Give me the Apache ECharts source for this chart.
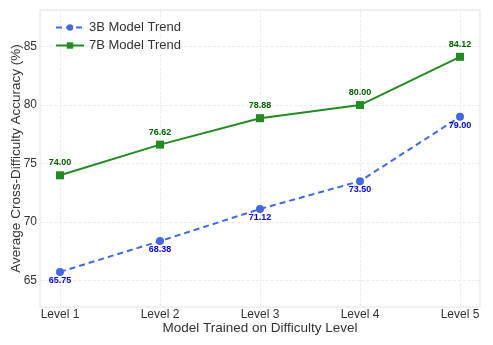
<!DOCTYPE html>
<html><head><meta charset="utf-8">
<script src="https://cdn.jsdelivr.net/npm/echarts@6/dist/echarts.min.js"></script>
<style>html,body{margin:0;padding:0;background:#fff}#c{width:493px;height:345px}</style>
</head><body><div id="c"></div>
<script>
const levels = [1, 2, 3, 4, 5];
const levelLabels = ['Level 1', 'Level 2', 'Level 3', 'Level 4', 'Level 5'];
const model3B = [65.75, 68.38, 71.12, 73.50, 79.00];
const model7B = [74.00, 76.62, 78.88, 80.00, 84.12];
const yTicks = [65, 70, 75, 80, 85];

const FONT = 'Liberation Sans, Arial, sans-serif';
const chart = echarts.init(document.getElementById('c'), null, {renderer: 'canvas'});
const fmt = v => v.value[1].toFixed(2);
chart.setOption({
  animation: false,
  textStyle: {fontFamily: FONT},
  grid: {left: 40, right: 13, top: 10, bottom: 38, show: true, borderColor: '#e2e2e2', borderWidth: 1,
         outerBoundsMode: 'none', containLabel: false},
  legend: {
    left: 50, top: 16, orient: 'vertical', itemGap: 5, itemWidth: 28, itemHeight: 8,
    textStyle: {fontSize: 13, color: '#333', fontFamily: FONT},
    data: ['3B Model Trend', '7B Model Trend']
  },
  xAxis: {
    type: 'value', min: 0.8, max: 5.2,
    name: 'Model Trained on Difficulty Level', nameLocation: 'middle', nameGap: 14, nameMoveOverlap: false,
    nameTextStyle: {fontSize: 13.5, color: '#333', fontFamily: FONT},
    axisLine: {show: false}, axisTick: {show: false, customValues: levels},
    axisLabel: {customValues: levels, formatter: v => levelLabels[levels.indexOf(v)] || '', fontSize: 12, color: '#333', margin: 2, fontFamily: FONT},
    splitLine: {show: true, customValues: levels, lineStyle: {color: '#e8e8e8', type: 'dashed', width: 0.8}}
  },
  yAxis: {
    type: 'value', min: 62.75, max: 88.12,
    name: 'Average Cross-Difficulty Accuracy (%)', nameLocation: 'middle', nameGap: 17, nameMoveOverlap: false,
    nameTextStyle: {fontSize: 13.5, color: '#333', fontFamily: FONT},
    axisLine: {show: false}, axisTick: {show: false, customValues: yTicks},
    axisLabel: {customValues: yTicks, fontSize: 12, color: '#333', margin: 3, fontFamily: FONT},
    splitLine: {show: true, customValues: yTicks, lineStyle: {color: '#e8e8e8', type: 'dashed', width: 0.8}}
  },
  series: [
    {
      name: '3B Model Trend', type: 'line',
      data: levels.map((l, i) => [l, model3B[i]]),
      symbol: 'circle', symbolSize: 8,
      itemStyle: {color: '#4169E1'},
      lineStyle: {color: '#4169E1', width: 2, type: [6, 4]},
      label: {show: true, position: 'bottom', distance: 0, formatter: fmt, color: '#0000FF', fontSize: 9, fontWeight: 'bold', fontFamily: FONT}
    },
    {
      name: '7B Model Trend', type: 'line',
      data: levels.map((l, i) => [l, model7B[i]]),
      symbol: 'rect', symbolSize: 8,
      itemStyle: {color: '#228B22'},
      lineStyle: {color: '#228B22', width: 2},
      label: {show: true, position: 'top', distance: 4, formatter: fmt, color: '#006400', fontSize: 9, fontWeight: 'bold', fontFamily: FONT}
    }
  ]
});
</script></body></html>
